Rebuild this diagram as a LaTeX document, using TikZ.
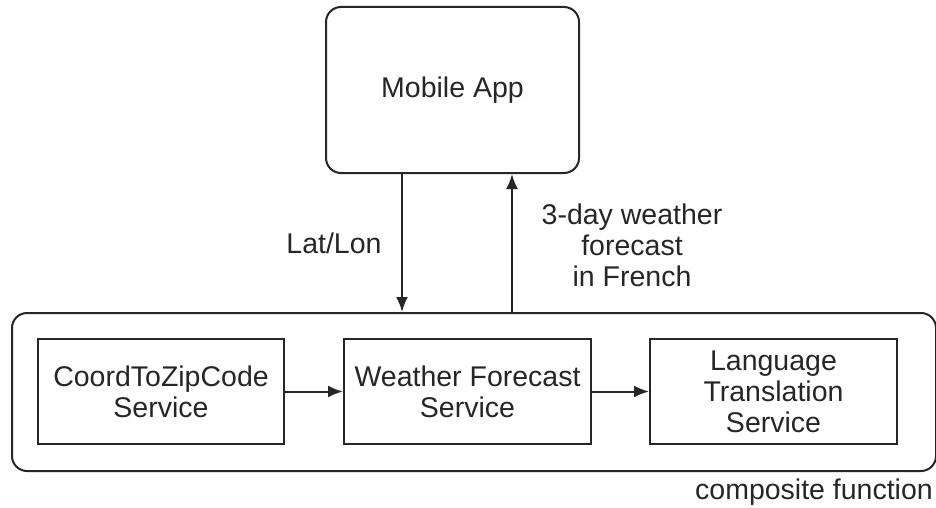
\documentclass[tikz,border=0pt]{standalone}
\usepackage{fontspec}
\setmainfont{Liberation Sans}
\usetikzlibrary{arrows.meta}
\begin{document}
\begin{tikzpicture}[x=1pt,y=-1pt,
  every node/.style={font=\fontsize{28.5pt}{31pt}\selectfont, text=black!85},
  box/.style={draw=black!85, line width=2pt, minimum width=246pt, minimum height=105pt, align=center, inner sep=0pt},
  roundbox/.style={draw=black!85, line width=2pt, rounded corners=15pt, inner sep=0pt},
  conn/.style={draw=black!85, line width=2pt, -{Latex[length=15pt,width=12pt]}},
  lbl/.style={align=center, inner sep=0pt}
]
\useasboundingbox (0,0) rectangle (936,508);
\node[roundbox, minimum width=253pt, minimum height=166pt] (app) at (452.5,90) {Mobile App};
\node[roundbox, minimum width=924pt, minimum height=158pt] (cont) at (474,392) {};
\node[box] (coord) at (161,391.5) {CoordToZipCode\\Service};
\node[box, minimum width=247pt] (weather) at (467.5,391.5) {Weather Forecast\\Service};
\node[box, minimum width=247pt] (lang) at (773.5,391.5) {Language\\Translation\\Service};
\node[lbl] (latlon) at (334,243) {Lat/Lon};
\node[lbl] (fr) at (632,245) {3-day weather\\forecast\\in French};
\node[lbl, anchor=east] (cf) at (933,492) {composite function};
\coordinate (dn) at (402,0);
\coordinate (up) at (512,0);
\draw[conn] (app.south -| dn) -- (cont.north -| dn);
\draw[conn] (cont.north -| up) -- (app.south -| up);
\draw[conn] (coord.east) -- (weather.west);
\draw[conn] (weather.east) -- (lang.west);
\end{tikzpicture}
\end{document}
